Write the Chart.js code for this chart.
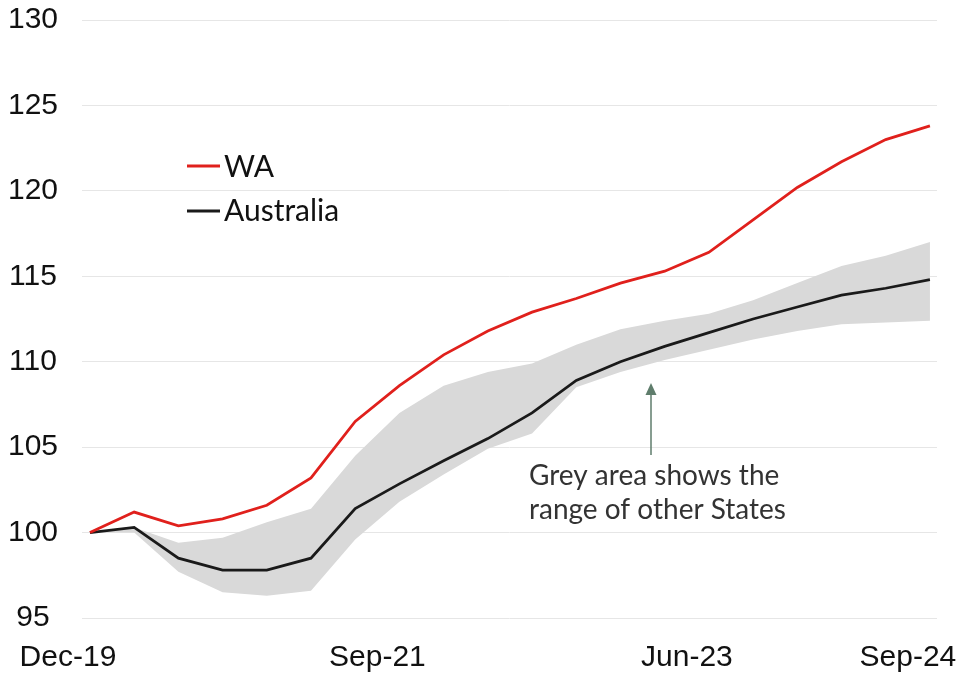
<!DOCTYPE html>
<html>
<head>
<meta charset="utf-8">
<script src="https://cdn.jsdelivr.net/npm/chart.js@4/dist/chart.umd.min.js"></script>
<style>
  html, body { margin: 0; padding: 0; background: #fff; }
  #wrap { width: 967px; height: 677px; position: relative; }
</style>
</head>
<body>
<div id="wrap"><canvas id="chart" width="967" height="677"></canvas></div>
<script>
// quarterly index, Dec-19 = 100
const quarters = ["Dec-19", "Mar-20", "Jun-20", "Sep-20", "Dec-20", "Mar-21", "Jun-21", "Sep-21",
    "Dec-21", "Mar-22", "Jun-22", "Sep-22", "Dec-22", "Mar-23", "Jun-23", "Sep-23",
    "Dec-23", "Mar-24", "Jun-24", "Sep-24"];
const waValues = [100, 101.2, 100.4, 100.8, 101.6, 103.2, 106.5, 108.6, 110.4, 111.8,
    112.9, 113.7, 114.6, 115.3, 116.4, 118.3, 120.2, 121.7, 123.0, 123.8];
const ausValues = [100, 100.3, 98.5, 97.8, 97.8, 98.5, 101.4, 102.85, 104.2, 105.5,
    107.0, 108.9, 110.0, 110.9, 111.7, 112.5, 113.2, 113.9, 114.3, 114.8];
// range of the other States (grey band)
const otherMin = [100, 100.0, 97.7, 96.5, 96.3, 96.6, 99.6, 101.8, 103.4, 104.9,
    105.8, 108.5, 109.4, 110.1, 110.7, 111.3, 111.8, 112.2, 112.3, 112.4];
const otherMax = [100, 100.3, 99.4, 99.7, 100.6, 101.4, 104.5, 107.0, 108.6, 109.4,
    109.9, 111.0, 111.9, 112.4, 112.8, 113.6, 114.6, 115.6, 116.2, 117.0];
const xTickIdx = [0, 7, 14, 19];
const yTicks = [95, 100, 105, 110, 115, 120, 125, 130];

const RED = "#e0201c";
const BLACK = "#1a1a1a";

function toPoints(arr) {
    return arr.map((v, i) => ({ x: i, y: v }));
}

// legend + annotation drawn on top
const extras = {
    id: "extras",
    afterDraw(chart) {
        const ctx = chart.ctx;
        ctx.save();
        // legend
        ctx.lineWidth = 3;
        ctx.strokeStyle = RED;
        ctx.beginPath(); ctx.moveTo(187, 166); ctx.lineTo(220, 166); ctx.stroke();
        ctx.strokeStyle = BLACK;
        ctx.beginPath(); ctx.moveTo(187, 211); ctx.lineTo(220, 211); ctx.stroke();
        ctx.fillStyle = "#111";
        ctx.font = "30px Lato";
        ctx.textBaseline = "alphabetic";
        ctx.textAlign = "left";
        ctx.fillText("WA", 224, 177);
        ctx.fillText("Australia", 224, 221);

        // arrow
        const ax = 651;
        ctx.strokeStyle = "#5f7d6c";
        ctx.fillStyle = "#5f7d6c";
        ctx.lineWidth = 1.5;
        ctx.beginPath(); ctx.moveTo(ax, 455); ctx.lineTo(ax, 393); ctx.stroke();
        ctx.beginPath();
        ctx.moveTo(ax, 383); ctx.lineTo(ax - 5.5, 395); ctx.lineTo(ax + 5.5, 395);
        ctx.closePath(); ctx.fill();

        // note
        ctx.fillStyle = "#333";
        ctx.font = "28px Lato";
        ctx.fillText("Grey area shows the", 529, 485);
        ctx.fillText("range of other States", 529, 519);
        ctx.restore();
    }
};

new Chart(document.getElementById("chart"), {
    type: "line",
    data: {
        datasets: [
            {
                label: "Other min",
                data: toPoints(otherMin),
                borderWidth: 0,
                pointRadius: 0,
                fill: false,
                order: 3
            },
            {
                label: "Other max",
                data: toPoints(otherMax),
                borderWidth: 0,
                pointRadius: 0,
                backgroundColor: "#d9d9d9",
                fill: "-1",
                order: 3
            },
            {
                label: "Australia",
                data: toPoints(ausValues),
                borderColor: BLACK,
                borderWidth: 2.75,
                pointRadius: 0,
                fill: false,
                order: 2
            },
            {
                label: "WA",
                data: toPoints(waValues),
                borderColor: RED,
                borderWidth: 2.75,
                pointRadius: 0,
                fill: false,
                order: 1
            }
        ]
    },
    options: {
        responsive: false,
        animation: false,
        layout: { padding: { top: 20, right: 30, left: 0, bottom: 0 } },
        plugins: {
            legend: { display: false },
            tooltip: { enabled: false }
        },
        scales: {
            x: {
                type: "linear",
                min: -0.18,
                max: 19.16,
                afterBuildTicks: (s) => { s.ticks = xTickIdx.map(v => ({ value: v })); },
                afterFit: (s) => { s.height = 59; s.paddingLeft = 0; s.paddingRight = 0; },
                grid: { display: false, drawTicks: false },
                border: { display: false },
                ticks: {
                    autoSkip: false,
                    maxRotation: 0,
                    padding: 22,
                    labelOffset: -22,
                    color: "#111",
                    font: { family: "Liberation Sans", size: 30 },
                    callback: (v) => quarters[v]
                }
            },
            y: {
                min: 95,
                max: 130,
                afterBuildTicks: (s) => { s.ticks = yTicks.map(v => ({ value: v })); },
                afterFit: (s) => { s.width = 82; s.paddingTop = 0; s.paddingBottom = 0; },
                grid: { color: "#e6e6e6", lineWidth: 1, drawTicks: false },
                border: { display: false },
                ticks: {
                    padding: 24,
                    crossAlign: "center",
                    color: "#111",
                    font: { family: "Liberation Sans", size: 30 }
                }
            }
        }
    },
    plugins: [extras]
});
</script>
</body>
</html>
